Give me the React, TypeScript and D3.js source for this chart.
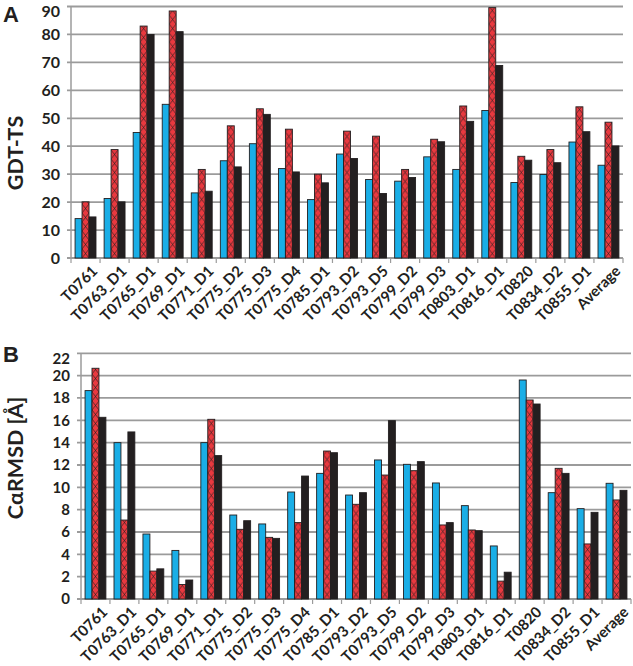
import * as d3 from "d3";

// categories shared by both panels
const targets = [
  "T0761", "T0763_D1", "T0765_D1", "T0769_D1", "T0771_D1", "T0775_D2", "T0775_D3",
  "T0775_D4", "T0785_D1", "T0793_D2", "T0793_D5", "T0799_D2", "T0799_D3", "T0803_D1",
  "T0816_D1", "T0820", "T0834_D2", "T0855_D1", "Average",
];

// panel A: GDT-TS
const gdtBlue = [14.1, 21.3, 44.9, 55.0, 23.3, 34.8, 40.9, 32.0, 20.9, 37.2, 28.1, 27.5, 36.2, 31.7, 52.8, 27.0, 29.9, 41.5, 33.2];
const gdtRed = [20.1, 38.8, 83.0, 88.4, 31.7, 47.3, 53.4, 46.1, 30.0, 45.4, 43.6, 31.7, 42.5, 54.4, 89.6, 36.4, 38.8, 54.1, 48.6];
const gdtBlack = [14.7, 20.1, 80.0, 81.0, 23.9, 32.6, 51.4, 30.8, 26.9, 35.6, 23.1, 28.8, 41.6, 48.9, 68.9, 35.0, 34.1, 45.2, 40.1];
const gdtTicks = [0, 10, 20, 30, 40, 50, 60, 70, 80, 90];

// panel B: CaRMSD
const rmsdBlue = [18.66, 14.0, 5.82, 4.35, 14.0, 7.52, 6.72, 9.58, 11.25, 9.31, 12.45, 12.06, 10.39, 8.36, 4.75, 19.61, 9.52, 8.09, 10.36];
const rmsdRed = [20.66, 7.07, 2.5, 1.3, 16.09, 6.24, 5.52, 6.84, 13.25, 8.48, 11.1, 11.49, 6.63, 6.18, 1.6, 17.82, 11.7, 4.93, 8.87];
const rmsdBlack = [16.27, 14.96, 2.7, 1.7, 12.84, 7.01, 5.43, 11.01, 13.1, 9.52, 15.97, 12.3, 6.84, 6.12, 2.4, 17.46, 11.25, 7.76, 9.73];
const rmsdTicks = [0, 2, 4, 6, 8, 10, 12, 14, 16, 18, 20, 22];

const BLUE = "#1aaee6";
const RED = "#e8393f";
const BLACK = "#231f20";
const GRID = "#9b9b9b";
const FONT = "Lato, 'Liberation Sans', sans-serif";

type PanelProps = {
  id: string;
  letter: string;
  letterY: number;
  title: string;
  titleY: number;
  titleSize: number;
  x0: number;
  x1: number;
  yTop: number;
  yBase: number;
  max: number;
  ticks: number[];
  series: number[][];
  tickSize: number;
};

function Panel(p: PanelProps) {
  const { id, x0, x1, yTop, yBase, max, ticks, series } = p;
  const x = d3.scaleBand<string>().domain(targets).range([x0, x1]).paddingInner(0.28).paddingOuter(0.14);
  const xs = d3.scaleBand<number>().domain([0, 1, 2]).range([0, x.bandwidth()]);
  const y = d3.scaleLinear().domain([0, max]).range([yBase, yTop]);
  const step = x.step();
  const bw = xs.bandwidth();
  const hh = 9; // hatch cell height

  return (
    <g>
      <defs>
        {/* one hatch per red bar so the X's sit centred in it */}
        {targets.map((c, i) => (
          <pattern key={c} id={`${id}-h${i}`} patternUnits="userSpaceOnUse"
            x={(x(c) ?? 0) + (xs(1) ?? 0)} y={yBase} width={bw} height={hh}>
            <rect width={bw} height={hh} fill={RED} />
            <path d={`M0,0 L${bw},${hh} M${bw},0 L0,${hh}`} stroke="#231f20" strokeWidth={0.65} />
          </pattern>
        ))}
      </defs>

      <text x={3} y={p.letterY} fontFamily="Arial, 'Liberation Sans', sans-serif" fontWeight={700} fontSize={22} fill="#231f20">
        {p.letter}
      </text>
      <text
        transform={`translate(23, ${p.titleY}) rotate(-90)`}
        textAnchor="middle" fontFamily={FONT} fontWeight={700} fontSize={p.titleSize} fill="#231f20"
      >
        {p.title}
      </text>

      {/* gridlines + y ticks */}
      {ticks.map((t) => (
        <g key={t}>
          <line x1={x0 - 4} x2={x1} y1={y(t)} y2={y(t)} stroke={GRID} strokeWidth={1.8} />
          <text x={x0 - 11} y={Math.max(y(t), yTop + 5)} dy="0.36em" textAnchor="end"
            fontFamily={FONT} fontWeight={700} fontSize={p.tickSize} fill="#231f20">
            {t}
          </text>
        </g>
      ))}
      <line x1={x0} x2={x0} y1={yTop} y2={yBase} stroke={GRID} strokeWidth={1.5} />

      {/* x ticks at category boundaries */}
      {d3.range(targets.length + 1).map((i) => (
        <line key={i} x1={x0 + i * step} x2={x0 + i * step} y1={yBase} y2={yBase + 5} stroke={GRID} strokeWidth={1.2} />
      ))}

      {/* bars */}
      {targets.map((c, i) => (
        <g key={c}>
          {series.map((s, k) => (
            <rect
              key={k}
              x={(x(c) ?? 0) + (xs(k) ?? 0)}
              y={y(s[i])}
              width={bw}
              height={yBase - y(s[i])}
              fill={k === 0 ? BLUE : k === 1 ? `url(#${id}-h${i})` : BLACK}
              stroke="#231f20"
              strokeWidth={0.9}
            />
          ))}
        </g>
      ))}

      {/* rotated category labels */}
      {targets.map((c) => {
        const cx = (x(c) ?? 0) + x.bandwidth() / 2 + 13;
        const cy = yBase + 14;
        return (
          <text key={c} transform={`translate(${cx}, ${cy}) rotate(-45)`} textAnchor="end"
            fontFamily={FONT} fontWeight={700} fontSize={15} fill="#231f20">
            {c}
          </text>
        );
      })}
    </g>
  );
}

export default function App() {
  return (
    <div style={{ position: "absolute", left: 0, top: 0 }}>
      <svg width={633} height={666} style={{ display: "block", background: "#fff" }}>
        <Panel
          id="a" letter="A" letterY={22} title="GDT-TS" titleY={153} titleSize={21.5}
          x0={71} x1={623} yTop={6.5} yBase={258}
          max={90} ticks={gdtTicks} series={[gdtBlue, gdtRed, gdtBlack]} tickSize={16}
        />
        <Panel
          id="b" letter="B" letterY={362} title="CαRMSD [Å]" titleY={458} titleSize={21.5}
          x0={81} x1={631} yTop={353.3} yBase={599}
          max={22} ticks={rmsdTicks} series={[rmsdBlue, rmsdRed, rmsdBlack]} tickSize={15}
        />
      </svg>
    </div>
  );
}
